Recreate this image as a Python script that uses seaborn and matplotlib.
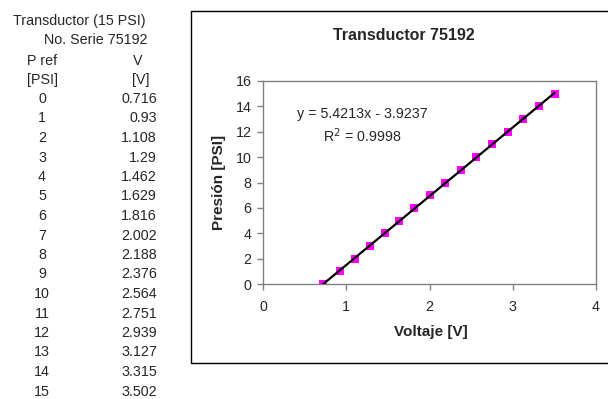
import numpy as np
import pandas as pd
import matplotlib
matplotlib.use("Agg")
import matplotlib.pyplot as plt
from matplotlib.lines import Line2D
import seaborn as sns

# ---- data ----
p_ref = [0, 1, 2, 3, 4, 5, 6, 7, 8, 9, 10, 11, 12, 13, 14, 15]
v_labels = ["0.716", "0.93", "1.108", "1.29", "1.462", "1.629", "1.816", "2.002",
            "2.188", "2.376", "2.564", "2.751", "2.939", "3.127", "3.315", "3.502"]
voltage = [float(s) for s in v_labels]
x_ticks = [0, 1, 2, 3, 4]
y_ticks = [0, 2, 4, 6, 8, 10, 12, 14, 16]

sns.set_theme(style="white")
plt.rcParams['font.family'] = ['Liberation Sans', 'DejaVu Sans']

W, H = 608, 399
fig = plt.figure(figsize=(W / 100, H / 100), dpi=100)

def fx(px):
    return px / W

def fy(py):
    return 1 - py / H

# ---- left table ----
fs = 10.3
fig.text(fx(13), fy(21), "Transductor (15 PSI)", fontsize=fs, ha="left", va="center")
fig.text(fx(148), fy(40), "No. Serie 75192", fontsize=fs, ha="right", va="center")
fig.text(fx(42), fy(61), "P ref", fontsize=fs, ha="center", va="center")
fig.text(fx(138), fy(61), "V", fontsize=fs, ha="center", va="center")
fig.text(fx(42), fy(80), "[PSI]", fontsize=fs, ha="center", va="center")
fig.text(fx(141), fy(80), "[V]", fontsize=fs, ha="center", va="center")
for i, (p, v) in enumerate(zip(p_ref, v_labels)):
    yy = 99 + i * 19.5
    fig.text(fx(42), fy(yy), str(p), fontsize=fs, ha="center", va="center")
    fig.text(fx(157), fy(yy), v, fontsize=fs, ha="right", va="center")

# ---- chart box border ----
box_l, box_t, box_b = 190.5, 10.5, 362.5
for xs, ys in [((box_l, W + 5), (box_t, box_t)),
               ((box_l, box_l), (box_t, box_b)),
               ((box_l, W + 5), (box_b, box_b))]:
    fig.add_artist(Line2D([fx(x) for x in xs], [fy(y) for y in ys],
                          color="black", linewidth=1.0, transform=fig.transFigure))

# ---- axes ----
ax_l, ax_r, ax_t, ax_b = 263, 596, 81, 284
ax = fig.add_axes([fx(ax_l), fy(ax_b), (ax_r - ax_l) / W, (ax_b - ax_t) / H])

df = pd.DataFrame({"V": voltage, "P": p_ref})
slope, intercept = np.polyfit(df["V"], df["P"], 1)
fit = pd.DataFrame({"V": [min(voltage), max(voltage)]})
fit["P"] = slope * fit["V"] + intercept

sns.scatterplot(data=df, x="V", y="P", ax=ax, marker="s", s=26,
                color="#FF00FF", edgecolor="#FF00FF", linewidth=0, zorder=2)
sns.lineplot(data=fit, x="V", y="P", ax=ax, color="black", linewidth=1.6, zorder=3)

ax.set_xlim(0, 4)
ax.set_ylim(0, 16)
ax.set_xticks(x_ticks)
ax.set_yticks(y_ticks)
ax.set_xticklabels([str(t) for t in x_ticks], fontsize=fs)
ax.set_yticklabels([str(t) for t in y_ticks], fontsize=fs)
ax.tick_params(axis="both", direction="out", length=4.3, width=1, color="#808080",
               bottom=True, left=True)
ax.tick_params(axis="x", pad=7)
ax.tick_params(axis="y", pad=4)
for s in ax.spines.values():
    s.set_color("#808080")
    s.set_linewidth(1.0)
    s.set_visible(True)
ax.grid(False)
ax.set_facecolor("white")

ax.set_xlabel("Voltaje [V]", fontsize=11, fontweight="bold")
ax.set_ylabel("Presión [PSI]", fontsize=11, fontweight="bold")
ax.xaxis.set_label_coords(0.503, (ax_b - 325) / (ax_b - ax_t))
ax.yaxis.set_label_coords((226 - ax_l) / (ax_r - ax_l), 0.5)

ax.text(1.19, 13.4, "y = 5.4213x - 3.9237", fontsize=fs, ha="center", va="center")
ax.text(1.19, 11.67, "R$^2$ = 0.9998", fontsize=fs, ha="center", va="center")

fig.text(fx(404), fy(36), "Transductor 75192", fontsize=11.5, fontweight="bold",
         ha="center", va="center")

fig.savefig("out.png", dpi=100, facecolor="white")
